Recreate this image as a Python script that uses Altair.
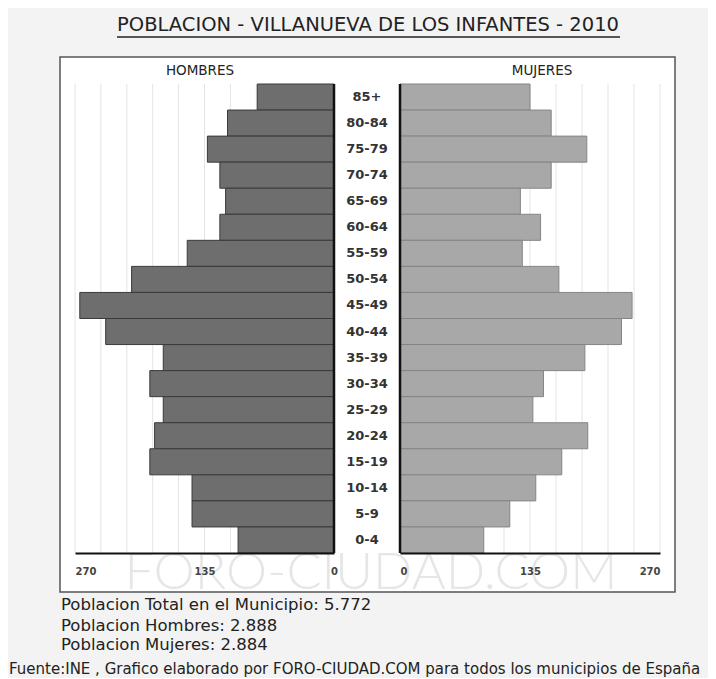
import altair as alt
import pandas as pd

ages = ["85+", "80-84", "75-79", "70-74", "65-69", "60-64", "55-59", "50-54", "45-49",
        "40-44", "35-39", "30-34", "25-29", "20-24", "15-19", "10-14", "5-9", "0-4"]
hombres = [80, 111, 132, 119, 113, 119, 153, 211, 265, 238, 178, 192, 178, 187, 192, 148, 148, 100]
mujeres = [135, 157, 194, 157, 125, 146, 127, 165, 241, 230, 192, 149, 138, 195, 168, 141, 114, 87]
grid_values = [27, 54, 81, 108, 135, 162, 189, 216, 243, 270]
tick_values = [0, 135, 270]

titulo = "POBLACION - VILLANUEVA DE LOS INFANTES - 2010"
linea_total = "Poblacion Total en el Municipio: 5.772"
linea_h = "Poblacion Hombres: 2.888"
linea_m = "Poblacion Mujeres: 2.884"
fuente = "Fuente:INE , Grafico elaborado por FORO-CIUDAD.COM para todos los municipios de España"
marca = "FORO-CIUDAD.COM"

df = pd.DataFrame({"edad": ages, "hombres": hombres, "mujeres": mujeres})
gdf = pd.DataFrame({"g": grid_values})
one = pd.DataFrame({"k": [0]})

FONT = "DejaVu Sans"
W, H = 615, 535
Y0, Y1 = 27, 496

yscale = alt.Scale(domain=ages, range=[Y0, Y1], paddingInner=0, paddingOuter=0)
left_scale = alt.Scale(domain=[0, 270], range=[274, 15])
right_scale = alt.Scale(domain=[0, 270], range=[340, 600])

def axis(align_expr):
    return alt.Axis(values=tick_values, orient="bottom", offset=-(H - Y1), grid=False,
                    ticks=False, domain=True, domainColor="#111", domainWidth=2,
                    labelPadding=13, labelFontSize=10, labelFont=FONT, labelFontWeight="bold",
                    labelColor="#444", labelAlign=alt.expr(align_expr), title=None, zindex=1)

ax_l = axis("datum.value == 270 ? 'left' : 'center'")
ax_r = axis("datum.value == 270 ? 'right' : (datum.value == 0 ? 'left' : 'center')")

# left (hombres)
grid_l = alt.Chart(gdf).mark_rule(color="#e4e4e4", strokeWidth=1).encode(
    x=alt.X("g:Q", scale=left_scale, axis=ax_l),
    y=alt.value(Y0), y2=alt.value(Y1))
bars_l = alt.Chart(df).mark_bar(color="#6e6e6e", stroke="#3a3a3a", strokeWidth=1).encode(
    x=alt.X("hombres:Q", scale=left_scale, axis=ax_l),
    y=alt.Y("edad:N", scale=yscale, axis=None, sort=ages))
zero_l = alt.Chart(one).mark_rule(color="#111", strokeWidth=2.5).encode(
    x=alt.datum(0, scale=left_scale, axis=ax_l), y=alt.value(Y0), y2=alt.value(Y1))
left = alt.layer(grid_l, bars_l, zero_l)

# right (mujeres)
grid_r = alt.Chart(gdf).mark_rule(color="#e4e4e4", strokeWidth=1).encode(
    x=alt.X("g:Q", scale=right_scale, axis=ax_r),
    y=alt.value(Y0), y2=alt.value(Y1))
bars_r = alt.Chart(df).mark_bar(color="#a8a8a8", stroke="#858585", strokeWidth=1).encode(
    x=alt.X("mujeres:Q", scale=right_scale, axis=ax_r),
    y=alt.Y("edad:N", scale=yscale, axis=None, sort=ages))
zero_r = alt.Chart(one).mark_rule(color="#111", strokeWidth=2.5).encode(
    x=alt.datum(0, scale=right_scale, axis=ax_r), y=alt.value(Y0), y2=alt.value(Y1))
right = alt.layer(grid_r, bars_r, zero_r)

watermark = alt.Chart(one).mark_text(text=marca, font="Lato", fontWeight=300, fontSize=52,
                                     color="#e6e6e6", align="center", baseline="middle").encode(
    x=alt.value(311), y=alt.value(516))

age_labels = alt.Chart(df).mark_text(font=FONT, fontSize=13, fontWeight="bold", color="#333",
                                     align="center", baseline="middle").encode(
    y=alt.Y("edad:N", scale=yscale, axis=None, sort=ages),
    x=alt.value(307), text="edad:N")

def label(txt, x, y, size, align="center", weight="normal", color="#222"):
    return alt.Chart(one).mark_text(text=txt, font=FONT, fontSize=size, fontWeight=weight,
                                    color=color, align=align, baseline="middle").encode(
        x=alt.value(x), y=alt.value(y))

title_t = label(titulo, 308, -32, 19.5)
underline = alt.Chart(one).mark_rule(color="#222", strokeWidth=1.5).encode(
    x=alt.value(57), x2=alt.value(560), y=alt.value(-20))
hombres_t = label("HOMBRES", 140, 14, 13.5)
mujeres_t = label("MUJERES", 482, 14, 13.5)
t1 = label(linea_total, 1, 548, 16.5, align="left")
t2 = label(linea_h, 1, 569, 16.5, align="left")
t3 = label(linea_m, 1, 588, 16.5, align="left")
t4 = label(fuente, -51, 612, 15, align="left")

chart = alt.layer(
    left, right, watermark, age_labels, title_t, underline, hombres_t, mujeres_t, t1, t2, t3, t4
).resolve_scale(x="independent").resolve_axis(x="independent").properties(
    width=W, height=H,
    autosize=alt.AutoSizeParams(type="none"),
    padding={"left": 52, "top": 49, "right": 33, "bottom": 86},
    background="#f3f3f3",
).configure_view(stroke="#555", strokeWidth=1.5, fill="white")

chart.save("out.html", embed_options={"renderer": "svg", "actions": False})
